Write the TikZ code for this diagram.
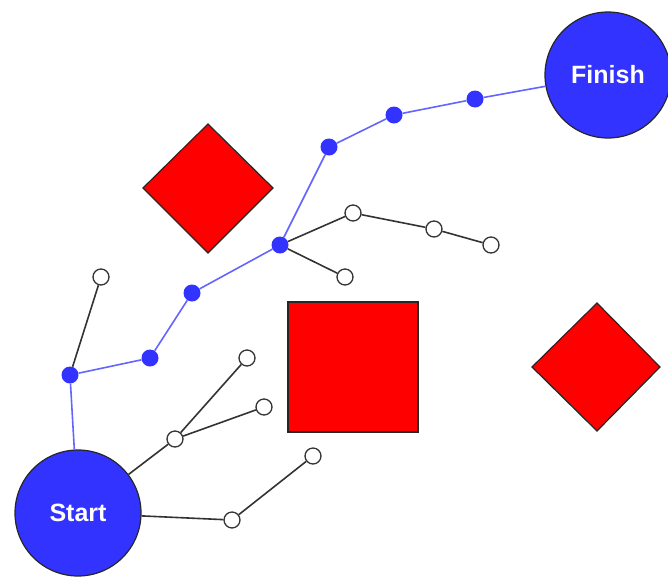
\documentclass[tikz,border=0pt]{standalone}
\usepackage{fontspec}
\setmainfont{Liberation Sans}
\definecolor{bfill}{RGB}{51,51,255}
\definecolor{bline}{RGB}{100,100,255}
\definecolor{rfill}{RGB}{255,0,0}
\begin{document}
\begin{tikzpicture}[x=1pt,y=-1pt,
  big/.style={circle,draw=black!85,line width=1.2pt,fill=bfill,minimum size=126pt,inner sep=0pt,text=white,font=\bfseries\fontsize{25}{28}\selectfont},
  bdot/.style={circle,fill=bfill,minimum size=17pt,inner sep=0pt},
  wdot/.style={circle,draw=black!80,line width=1.3pt,fill=white,minimum size=16pt,inner sep=0pt},
  bedge/.style={draw=bline,line width=1.6pt},
  kedge/.style={draw=black!80,line width=1.6pt},
  obst/.style={draw=black!85,line width=1.2pt,fill=rfill}]
\useasboundingbox (0,0) rectangle (668,576);
% obstacles
\draw[obst] (208,124) -- (273,188) -- (208,253) -- (143,188) -- cycle;
\draw[obst] (288,302) rectangle (418,432);
\draw[obst] (597,303) -- (660,367) -- (597,431) -- (532,367) -- cycle;
% nodes
\node[big] (start) at (78,513) {Start};
\node[big] (finish) at (608,75) {Finish};
\node[bdot] (a1) at (70,375) {};
\node[bdot] (a2) at (150,358) {};
\node[bdot] (a3) at (192,293) {};
\node[bdot] (a4) at (280,245) {};
\node[bdot] (a5) at (329,147) {};
\node[bdot] (a6) at (394,115) {};
\node[bdot] (a7) at (475,99) {};
\node[wdot] (w1) at (101,277) {};
\node[wdot] (w2) at (353,213) {};
\node[wdot] (w3) at (434,229) {};
\node[wdot] (w4) at (491,245) {};
\node[wdot] (w5) at (345,277) {};
\node[wdot] (w6) at (175,439) {};
\node[wdot] (w7) at (247,358) {};
\node[wdot] (w8) at (264,407) {};
\node[wdot] (w9) at (232,520) {};
\node[wdot] (w10) at (313,456) {};
% edges
\path[bedge] (start) -- (a1) (a1) -- (a2) (a2) -- (a3) (a3) -- (a4) (a4) -- (a5) (a5) -- (a6) (a6) -- (a7) (a7) -- (finish);
\path[kedge] (a1) -- (w1) (a4) -- (w2) (w2) -- (w3) (w3) -- (w4) (a4) -- (w5)
  (start) -- (w6) (w6) -- (w7) (w6) -- (w8) (start) -- (w9) (w9) -- (w10);
\end{tikzpicture}
\end{document}
